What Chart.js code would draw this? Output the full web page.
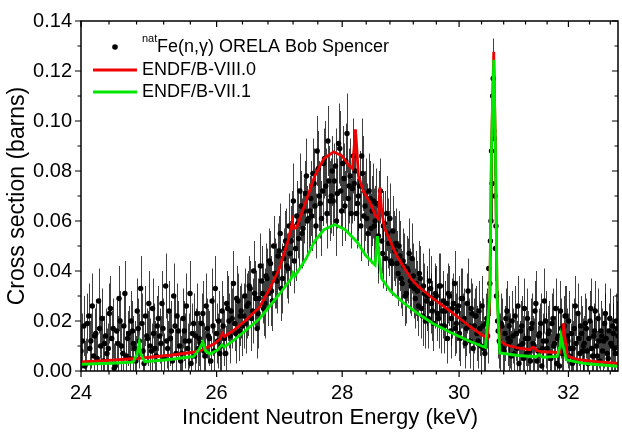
<!DOCTYPE html>
<html>
<head>
<meta charset="utf-8">
<script src="https://cdn.jsdelivr.net/npm/chart.js@4.4.0/dist/chart.umd.min.js"></script>
<style>
  html, body { margin: 0; padding: 0; background: #fff; }
</style>
</head>
<body>
<canvas id="myChart" width="622" height="433"></canvas>
<script>
// axis ticks (x axis is logarithmic)
const xMajor = [24, 26, 28, 30, 32];
const yMajor = [0, 0.02, 0.04, 0.06, 0.08, 0.10, 0.12, 0.14];

// natFe(n,g) ORELA data: energy (keV), cross section (mb), uncertainty (mb)
// two interleaved runs of points, same order in all three arrays
const dataE = [
    // run A
    24.00, 24.04, 24.07, 24.11, 24.14, 24.18, 24.21, 24.25, 24.28, 24.32,
    24.35, 24.39, 24.42, 24.46, 24.49, 24.53, 24.56, 24.60, 24.63, 24.67,
    24.70, 24.74, 24.77, 24.81, 24.84, 24.88, 24.91, 24.95, 24.98, 25.02,
    25.05, 25.09, 25.12, 25.16, 25.19, 25.23, 25.26, 25.30, 25.33, 25.37,
    25.40, 25.44, 25.47, 25.51, 25.54, 25.58, 25.61, 25.65, 25.68, 25.72,
    25.75, 25.79, 25.82, 25.86, 25.89, 25.93, 25.96, 26.00, 26.03, 26.07,
    26.10, 26.14, 26.17, 26.21, 26.24, 26.28, 26.31, 26.35, 26.38, 26.42,
    26.45, 26.49, 26.52, 26.56, 26.59, 26.63, 26.66, 26.70, 26.73, 26.77,
    26.80, 26.84, 26.87, 26.91, 26.94, 26.98, 27.01, 27.05, 27.08, 27.12,
    27.15, 27.19, 27.22, 27.26, 27.29, 27.33, 27.36, 27.40, 27.43, 27.47,
    27.50, 27.54, 27.57, 27.61, 27.64, 27.68, 27.71, 27.75, 27.78, 27.82,
    27.85, 27.89, 27.92, 27.96, 27.99, 28.03, 28.06, 28.10, 28.13, 28.17,
    28.20, 28.24, 28.27, 28.31, 28.34, 28.38, 28.41, 28.45, 28.48, 28.52,
    28.55, 28.59, 28.62, 28.66, 28.69, 28.73, 28.76, 28.80, 28.83, 28.87,
    28.90, 28.94, 28.97, 29.01, 29.04, 29.08, 29.11, 29.15, 29.18, 29.22,
    29.25, 29.29, 29.32, 29.36, 29.39, 29.43, 29.46, 29.50, 29.53, 29.57,
    29.60, 29.64, 29.67, 29.71, 29.74, 29.78, 29.81, 29.85, 29.88, 29.92,
    29.95, 29.99, 30.02, 30.06, 30.09, 30.13, 30.16, 30.20, 30.23, 30.27,
    30.30, 30.34, 30.37, 30.41, 30.44, 30.48, 30.51, 30.55, 30.57, 30.59,
    30.61, 30.63, 30.65, 30.67, 30.70, 30.74, 30.77, 30.81, 30.84, 30.88,
    30.90, 30.94, 30.97, 31.01, 31.04, 31.08, 31.11, 31.15, 31.18, 31.22,
    31.25, 31.29, 31.32, 31.36, 31.39, 31.43, 31.46, 31.50, 31.53, 31.57,
    31.60, 31.64, 31.67, 31.71, 31.74, 31.78, 31.81, 31.85, 31.88, 31.92,
    31.95, 31.99, 32.02, 32.06, 32.09, 32.13, 32.16, 32.20, 32.23, 32.27,
    32.30, 32.34, 32.37, 32.41, 32.44, 32.48, 32.51, 32.55, 32.58, 32.62,
    32.65, 32.69, 32.72, 32.76, 32.79, 32.83, 32.86, 32.90, 32.93,
    // run B
    24.020, 24.055, 24.090, 24.125, 24.160, 24.195, 24.230, 24.265, 24.300, 24.335,
    24.370, 24.405, 24.440, 24.475, 24.510, 24.545, 24.580, 24.615, 24.650, 24.685,
    24.720, 24.755, 24.790, 24.825, 24.860, 24.895, 24.930, 24.965, 25.000, 25.035,
    25.070, 25.105, 25.140, 25.175, 25.210, 25.245, 25.280, 25.315, 25.350, 25.385,
    25.420, 25.455, 25.490, 25.525, 25.560, 25.595, 25.630, 25.665, 25.700, 25.735,
    25.770, 25.805, 25.840, 25.875, 25.910, 25.945, 25.980, 26.015, 26.050, 26.085,
    26.120, 26.155, 26.190, 26.225, 26.260, 26.295, 26.330, 26.365, 26.400, 26.435,
    26.470, 26.505, 26.540, 26.575, 26.610, 26.645, 26.680, 26.715, 26.750, 26.785,
    26.820, 26.855, 26.890, 26.925, 26.960, 26.995, 27.030, 27.065, 27.100, 27.135,
    27.170, 27.205, 27.240, 27.275, 27.310, 27.345, 27.380, 27.415, 27.450, 27.485,
    27.520, 27.555, 27.590, 27.625, 27.660, 27.695, 27.730, 27.765, 27.800, 27.835,
    27.870, 27.905, 27.940, 27.975, 28.010, 28.045, 28.080, 28.115, 28.150, 28.185,
    28.220, 28.255, 28.290, 28.325, 28.360, 28.395, 28.430, 28.465, 28.500, 28.535,
    28.570, 28.605, 28.640, 28.675, 28.710, 28.745, 28.780, 28.815, 28.850, 28.885,
    28.920, 28.955, 28.990, 29.025, 29.060, 29.095, 29.130, 29.165, 29.200, 29.235,
    29.270, 29.305, 29.340, 29.375, 29.410, 29.445, 29.480, 29.515, 29.550, 29.585,
    29.620, 29.655, 29.690, 29.725, 29.760, 29.795, 29.830, 29.865, 29.900, 29.935,
    29.970, 30.005, 30.040, 30.075, 30.110, 30.145, 30.180, 30.215, 30.250, 30.285,
    30.320, 30.355, 30.390, 30.425, 30.460, 30.495, 30.530, 30.560, 30.580, 30.600,
    30.620, 30.640, 30.660, 30.690, 30.720, 30.755, 30.790, 30.825, 30.860, 30.890,
    30.920, 30.955, 30.990, 31.025, 31.060, 31.095, 31.130, 31.165, 31.200, 31.235,
    31.270, 31.305, 31.340, 31.375, 31.410, 31.445, 31.480, 31.515, 31.550, 31.585,
    31.620, 31.655, 31.690, 31.725, 31.760, 31.795, 31.830, 31.865, 31.900, 31.935,
    31.970, 32.005, 32.040, 32.075, 32.110, 32.145, 32.180, 32.215, 32.250, 32.285,
    32.320, 32.355, 32.390, 32.425, 32.460, 32.495, 32.530, 32.565, 32.600, 32.635,
    32.670, 32.705, 32.740, 32.775, 32.810, 32.845, 32.880, 32.915, 32.950
];
const dataMb = [
    // run A
    8, 18, 3, 22, 12, 6, 15, 28, 10, 4,
    14, 9, 25, 17, 2, 11, 20, 7, 31, 13,
    5, 16, 9, 24, 12, 19, 3, 14, 27, 8,
    15, 6, 21, 11, 17, 34, 9, 13, 4, 18,
    22, 10, 7, 16, 26, 12, 3, 19, 14, 9,
    11, 23, 6, 17, 13, 28, 8, 15, 20, 10,
    18, 7, 25, 14, 21, 19, 29, 16, 24, 22,
    19, 27, 33, 24, 31, 17, 29, 36, 25, 38,
    31, 43, 28, 39, 36, 48, 33, 45, 52, 41,
    47, 58, 44, 62, 53, 66, 57, 71, 60, 64,
    62, 75, 58, 81, 67, 72, 85, 63, 76, 70,
    68, 82, 71, 89, 64, 77, 84, 69, 78, 73,
    75, 63, 70, 58, 79, 66, 61, 72, 57, 68,
    60, 49, 66, 52, 58, 45, 55, 61, 43, 50,
    51, 39, 46, 35, 42, 31, 40, 36, 45, 33,
    35, 26, 37, 22, 31, 28, 21, 33, 24, 29,
    30, 21, 34, 24, 18, 27, 31, 16, 25, 35,
    19, 26, 13, 29, 21, 17, 32, 12, 23, 18,
    22, 12, 17, 26, 9, 19, 14, 35, 60, 75,
    117, 93, 49, 30, 16, 11, 18, 8, 21, 13,
    18, 6, 14, 22, 9, 3, 16, 11, 25, 7,
    13, 4, 19, 10, 27, 8, 15, 2, 12, 20,
    9, 16, 5, 21, 11, 3, 14, 24, 7, 18,
    22, 12, 6, 15, 9, 26, 4, 13, 18, 8,
    11, 17, 3, 20, 9, 14, 24, 6, 12, 16,
    8, 19, 13, 5, 21, 10, 15, 7, 17,
    // run B
    12, 2, 19, 9, 26, 14, 5, 17, 21, 11,
    7, 23, 13, 1, 16, 29, 10, 18, 6, 15,
    20, 11, 4, 17, 33, 8, 22, 13, 10, 25,
    9, 18, 14, 27, 5, 12, 24, 16, 30, 7,
    16, 4, 21, 12, 9, 31, 15, 6, 23, 13,
    19, 8, 26, 14, 4, 18, 33, 12, 7, 24,
    13, 27, 20, 24, 35, 15, 28, 22, 18, 30,
    26, 34, 21, 40, 29, 23, 42, 31, 27, 37,
    44, 32, 50, 38, 46, 55, 37, 49, 42, 58,
    52, 68, 49, 59, 72, 55, 64, 78, 61, 69,
    79, 66, 88, 70, 61, 83, 74, 92, 68, 80,
    76, 60, 91, 72, 83, 66, 95, 74, 63, 86,
    80, 67, 74, 86, 62, 71, 55, 69, 64, 58,
    67, 54, 72, 47, 59, 63, 51, 44, 56, 48,
    43, 50, 37, 44, 30, 41, 47, 34, 38, 29,
    32, 39, 25, 34, 20, 30, 36, 27, 19, 31,
    23, 34, 18, 28, 24, 13, 30, 21, 27, 17,
    24, 15, 29, 20, 11, 27, 18, 25, 9, 22,
    15, 24, 10, 18, 7, 21, 41, 52, 88, 110,
    96, 70, 58, 20, 12, 19, 9, 15, 24, 11,
    12, 20, 7, 15, 26, 10, 18, 5, 13, 21,
    8, 17, 11, 24, 4, 14, 19, 9, 28, 12,
    15, 6, 19, 10, 25, 13, 2, 17, 9, 22,
    14, 20, 9, 3, 17, 11, 23, 7, 15, 10,
    19, 8, 13, 25, 6, 16, 10, 21, 4, 14,
    12, 23, 7, 16, 11, 18, 9, 20, 14
];
const dataErrMb = [
    // run A
    10, 12, 10, 13, 11, 10, 12, 13, 11, 10,
    11, 10, 13, 12, 10, 11, 12, 10, 13, 11,
    10, 12, 11, 13, 11, 12, 10, 11, 13, 11,
    12, 10, 13, 11, 12, 13, 11, 11, 10, 12,
    13, 11, 10, 12, 13, 11, 10, 12, 11, 11,
    11, 13, 10, 12, 11, 13, 11, 12, 12, 11,
    12, 11, 13, 11, 12, 11, 13, 12, 11, 13,
    12, 13, 11, 13, 13, 12, 12, 14, 11, 13,
    13, 13, 12, 14, 13, 14, 13, 12, 13, 14,
    13, 14, 13, 14, 13, 14, 15, 13, 14, 14,
    14, 14, 13, 15, 14, 14, 15, 14, 14, 15,
    14, 15, 14, 15, 14, 14, 15, 14, 15, 14,
    15, 14, 14, 14, 15, 14, 14, 15, 14, 15,
    14, 14, 14, 13, 14, 13, 14, 14, 13, 14,
    14, 13, 14, 13, 13, 12, 13, 13, 14, 12,
    13, 12, 13, 12, 12, 12, 12, 13, 12, 12,
    12, 12, 13, 11, 11, 12, 12, 11, 12, 13,
    12, 12, 11, 12, 12, 11, 13, 11, 12, 11,
    12, 11, 11, 12, 10, 12, 11, 13, 14, 15,
    16, 15, 13, 12, 11, 12, 11, 10, 12, 11,
    12, 10, 11, 12, 11, 10, 12, 11, 12, 10,
    11, 10, 12, 11, 13, 10, 12, 10, 11, 12,
    11, 12, 10, 12, 11, 10, 12, 12, 10, 12,
    12, 11, 10, 12, 11, 12, 10, 11, 12, 10,
    11, 12, 10, 12, 11, 12, 12, 10, 11, 12,
    10, 12, 11, 10, 12, 11, 12, 10, 11,
    // run B
    11, 10, 12, 11, 13, 11, 10, 12, 12, 11,
    10, 12, 11, 10, 12, 13, 11, 12, 10, 11,
    12, 11, 10, 12, 13, 10, 12, 11, 11, 12,
    11, 12, 11, 13, 10, 11, 12, 12, 13, 10,
    12, 10, 12, 11, 10, 13, 12, 10, 12, 11,
    12, 11, 13, 11, 10, 12, 13, 11, 10, 12,
    11, 13, 11, 12, 13, 12, 11, 12, 12, 11,
    13, 12, 13, 12, 11, 14, 13, 12, 14, 12,
    13, 14, 12, 13, 13, 12, 14, 15, 13, 13,
    14, 15, 13, 14, 15, 14, 13, 15, 14, 15,
    14, 15, 14, 14, 15, 14, 15, 14, 16, 14,
    15, 14, 16, 15, 15, 14, 16, 15, 14, 15,
    14, 15, 14, 15, 16, 14, 13, 15, 14, 15,
    14, 15, 13, 14, 13, 15, 13, 13, 14, 14,
    13, 14, 12, 13, 12, 13, 14, 12, 13, 12,
    12, 13, 12, 13, 11, 12, 13, 12, 11, 12,
    11, 13, 11, 12, 12, 10, 12, 11, 12, 11,
    12, 11, 12, 11, 10, 12, 11, 12, 10, 11,
    11, 12, 10, 11, 10, 12, 13, 14, 15, 16,
    15, 14, 13, 12, 11, 12, 10, 11, 12, 11,
    11, 12, 10, 11, 12, 10, 12, 10, 11, 12,
    10, 12, 11, 12, 10, 11, 12, 10, 13, 11,
    11, 10, 12, 10, 12, 11, 10, 12, 10, 12,
    11, 12, 10, 10, 12, 11, 12, 10, 11, 11,
    12, 10, 11, 12, 10, 11, 10, 12, 10, 11,
    11, 12, 10, 11, 11, 12, 10, 11, 12
];

// ENDF/B-VIII.0 evaluation (keV, mb)
const redE = [
    24.00, 24.44, 24.88, 25.33, 25.61, 25.79, 25.97, 26.05, 26.09, 26.12,
    26.25, 26.44, 26.67, 26.83, 26.98, 27.12, 27.19, 27.21, 27.26, 27.41,
    27.55, 27.70, 27.86, 28.00, 28.12, 28.17, 28.20, 28.22, 28.24, 28.27,
    28.35, 28.45, 28.56, 28.60, 28.63, 28.66, 28.71, 28.92, 29.17, 29.28,
    29.54, 29.86, 30.18, 30.40, 30.51, 30.55, 30.58, 30.62, 30.65, 30.68,
    30.73, 30.84, 31.06, 31.28, 31.34, 31.37, 31.41, 31.50, 31.73, 31.84,
    31.89, 31.91, 31.93, 31.98, 32.19, 32.54, 32.95
];
const redMb = [
    3.6, 4.3, 5.2, 6.4, 7.4, 8.5, 11.0, 12.8, 15.0, 13.8,
    16.0, 20.0, 25.6, 33.0, 41.0, 52.0, 59.8, 57.0, 57.5, 68.0,
    78.0, 85.0, 87.7, 86.0, 82.0, 81.0, 90.0, 96.7, 90.0, 78.0,
    72.0, 68.0, 62.0, 61.0, 73.4, 64.0, 57.0, 46.0, 36.6, 34.0,
    29.0, 23.7, 18.0, 14.5, 13.3, 30.0, 90.0, 127.7, 90.0, 30.0,
    12.0, 10.5, 9.2, 8.5, 9.5, 9.2, 8.2, 7.7, 7.5, 7.2,
    14.0, 19.1, 14.0, 6.0, 4.5, 3.7, 3.0
];

// ENDF/B-VII.1 evaluation (keV, mb)
const greenE = [
    24.00, 24.44, 24.75, 24.81, 24.84, 24.86, 24.92, 25.33, 25.65, 25.74,
    25.79, 25.83, 25.90, 26.02, 26.08, 26.12, 26.25, 26.44, 26.67, 26.83,
    27.02, 27.17, 27.20, 27.23, 27.41, 27.55, 27.70, 27.88, 28.05, 28.25,
    28.40, 28.55, 28.57, 28.59, 28.62, 28.66, 28.81, 29.02, 29.28, 29.54,
    29.86, 30.18, 30.47, 30.55, 30.58, 30.62, 30.65, 30.68, 30.73, 31.06,
    31.39, 31.45, 31.48, 31.52, 31.79, 31.84, 31.86, 31.90, 31.96, 32.31,
    32.95
];
const greenMb = [
    2.7, 3.1, 3.5, 7.0, 11.4, 7.0, 3.7, 4.7, 5.8, 9.0,
    11.6, 8.0, 6.8, 8.5, 10.5, 9.6, 12.0, 16.0, 21.0, 26.0,
    32.0, 37.0, 39.2, 38.0, 45.0, 52.0, 56.5, 58.6, 56.5, 51.5,
    46.0, 42.4, 48.0, 54.0, 45.0, 37.0, 32.0, 27.5, 23.0, 19.0,
    15.3, 12.0, 9.4, 30.0, 90.0, 124.5, 90.0, 30.0, 7.2, 6.2,
    5.7, 6.5, 6.0, 5.5, 5.8, 10.0, 14.0, 10.0, 4.5, 3.0,
    1.9
];

const legendSup = 'nat';
const legendData = 'Fe(n,\u03b3) ORELA Bob Spencer';
const legendRed = 'ENDF/B-VIII.0';
const legendGreen = 'ENDF/B-VII.1';
const xTitle = 'Incident Neutron Energy (keV)';
const yTitle = 'Cross section (barns)';

const RED = 'rgb(238, 0, 0)';
const GREEN = 'rgb(0, 232, 0)';
const FONT = '"Liberation Sans", Arial, sans-serif';

const toPoints = (es, mbs) => es.map((e, i) => ({x: e, y: mbs[i] / 1000}));

// error bars under the points; frame, ticks, legend and x title on top
const decorations = {
    id: 'decorations',
    beforeDatasetsDraw(chart) {
        const {ctx, chartArea: a, scales: {x, y}} = chart;
        ctx.save();
        ctx.beginPath();
        ctx.rect(a.left, a.top, a.width, a.height);
        ctx.clip();
        ctx.strokeStyle = 'rgba(0, 0, 0, 0.75)';
        ctx.lineWidth = 1;
        ctx.beginPath();
        dataE.forEach((e, i) => {
            const px = Math.round(x.getPixelForValue(e)) + 0.5;
            ctx.moveTo(px, y.getPixelForValue((dataMb[i] - dataErrMb[i]) / 1000));
            ctx.lineTo(px, y.getPixelForValue((dataMb[i] + dataErrMb[i]) / 1000));
        });
        ctx.stroke();
        ctx.restore();
    },
    afterDatasetsDraw(chart) {
        const {ctx, chartArea: a, scales: {x, y}} = chart;
        ctx.save();
        ctx.strokeStyle = '#000';
        ctx.lineWidth = 1.5;
        ctx.strokeRect(a.left, a.top, a.right - a.left, a.bottom - a.top);

        // minor ticks every 0.4 keV and 0.01 b
        ctx.lineWidth = 1.2;
        ctx.beginPath();
        for (let k = 0; k <= 22; k++) {
            const px = x.getPixelForValue(24 + 0.4 * k);
            const len = k % 5 === 0 ? 6 : 3.5;
            ctx.moveTo(px, a.bottom);
            ctx.lineTo(px, a.bottom + len);
            ctx.moveTo(px, a.top);
            ctx.lineTo(px, a.top + len);
        }
        for (let k = 0; k <= 14; k++) {
            const py = y.getPixelForValue(0.01 * k);
            const len = k % 2 === 0 ? 6 : 3.5;
            ctx.moveTo(a.left, py);
            ctx.lineTo(a.left - len, py);
            ctx.moveTo(a.right, py);
            ctx.lineTo(a.right - len, py);
        }
        ctx.stroke();

        // legend
        const lx = a.left, ly = a.top;
        ctx.fillStyle = '#000';
        ctx.beginPath();
        ctx.arc(lx + 34, ly + 26, 2.8, 0, Math.PI * 2);
        ctx.fill();
        ctx.textBaseline = 'middle';
        ctx.textAlign = 'left';
        ctx.font = '11px ' + FONT;
        ctx.fillText(legendSup, lx + 61, ly + 18);
        ctx.font = '18px ' + FONT;
        ctx.fillText(legendData, lx + 76, ly + 26);

        ctx.lineWidth = 2.8;
        ctx.strokeStyle = RED;
        ctx.beginPath();
        ctx.moveTo(lx + 12, ly + 49);
        ctx.lineTo(lx + 56, ly + 49);
        ctx.stroke();
        ctx.fillText(legendRed, lx + 61, ly + 49);

        ctx.strokeStyle = GREEN;
        ctx.beginPath();
        ctx.moveTo(lx + 12, ly + 71);
        ctx.lineTo(lx + 56, ly + 71);
        ctx.stroke();
        ctx.fillText(legendGreen, lx + 61, ly + 71);

        // x axis title
        ctx.font = '22px ' + FONT;
        ctx.textAlign = 'center';
        ctx.fillText(xTitle, 330, 418);
        ctx.restore();
    }
};

const config = {
    type: 'scatter',
    data: {
        datasets: [
            {
                label: legendGreen,
                data: toPoints(greenE, greenMb),
                showLine: true,
                borderColor: GREEN,
                borderWidth: 2.8,
                pointRadius: 0,
                order: 0
            },
            {
                label: legendRed,
                data: toPoints(redE, redMb),
                showLine: true,
                borderColor: RED,
                borderWidth: 2.8,
                pointRadius: 0,
                order: 1
            },
            {
                label: legendSup + legendData,
                data: toPoints(dataE, dataMb),
                backgroundColor: '#000',
                borderColor: '#000',
                pointRadius: 2.7,
                borderWidth: 0,
                order: 2
            }
        ]
    },
    options: {
        responsive: false,
        animation: false,
        devicePixelRatio: 1,
        layout: {padding: {top: 11, right: 1, left: 0, bottom: 0}},
        plugins: {legend: {display: false}, tooltip: {enabled: false}},
        scales: {
            x: {
                type: 'logarithmic',
                min: 24,
                max: 32.95,
                afterBuildTicks: axis => { axis.ticks = xMajor.map(v => ({value: v})); },
                afterFit: axis => { axis.height = 62; },
                grid: {display: false, drawTicks: false},
                border: {display: false},
                ticks: {
                    color: '#000',
                    font: {family: FONT, size: 20},
                    padding: 10,
                    maxRotation: 0,
                    autoSkip: false,
                    callback: v => String(v)
                }
            },
            y: {
                type: 'linear',
                min: 0,
                max: 0.14,
                afterBuildTicks: axis => { axis.ticks = yMajor.map(v => ({value: v})); },
                afterFit: axis => { axis.width = 81; },
                grid: {display: false, drawTicks: false},
                border: {display: false},
                ticks: {
                    color: '#000',
                    font: {family: FONT, size: 20},
                    padding: 9,
                    callback: v => v.toFixed(2)
                },
                title: {
                    display: true,
                    text: yTitle,
                    color: '#000',
                    font: {family: FONT, size: 23},
                    padding: 4
                }
            }
        }
    },
    plugins: [decorations]
};

const myChart = new Chart(document.getElementById('myChart'), config);
</script>
</body>
</html>
